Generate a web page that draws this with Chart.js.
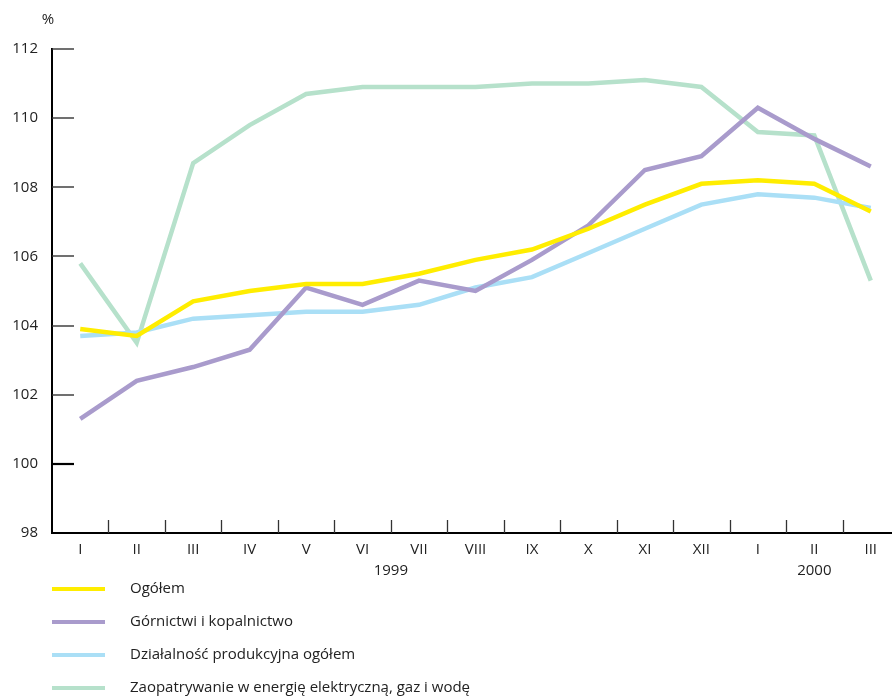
<!DOCTYPE html>
<html>
<head>
<meta charset="utf-8">
<script src="https://cdn.jsdelivr.net/npm/chart.js@4/dist/chart.umd.min.js"></script>
<style>
  html, body { margin: 0; padding: 0; overflow: hidden; background: #fff; }
</style>
</head>
<body>
<canvas id="wykres" width="899" height="699"></canvas>
<script>
// miesiace na osi X
const miesiace = ["I", "II", "III", "IV", "V", "VI", "VII", "VIII", "IX", "X", "XI", "XII", "I", "II", "III"];
// lata pod miesiacami (indeksy pierwszego i ostatniego miesiaca)
const lata = [
    { tekst: "1999", start: 0, end: 11 },
    { tekst: "2000", start: 12, end: 14 }
];
const podzialkaY = [98, 100, 102, 104, 106, 108, 110, 112];

const ogolem        = [103.9, 103.7, 104.7, 105.0, 105.2, 105.2, 105.5, 105.9, 106.2, 106.8, 107.5, 108.1, 108.2, 108.1, 107.3];
const gornictwo     = [101.3, 102.4, 102.8, 103.3, 105.1, 104.6, 105.3, 105.0, 105.9, 106.9, 108.5, 108.9, 110.3, 109.4, 108.6];
const dzialalnosc   = [103.7, 103.8, 104.2, 104.3, 104.4, 104.4, 104.6, 105.1, 105.4, 106.1, 106.8, 107.5, 107.8, 107.7, 107.4];
const zaopatrywanie = [105.8, 103.5, 108.7, 109.8, 110.7, 110.9, 110.9, 110.9, 111.0, 111.0, 111.1, 110.9, 109.6, 109.5, 105.3];

const czcionka = "'Open Sans', 'DejaVu Sans', sans-serif";

// znaczniki skierowane do srodka, lata, "%" i legenda pod wykresem
const dodatki = {
    id: "dodatki",
    afterDraw(chart) {
        const ctx = chart.ctx;
        const x = chart.scales.x;
        const y = chart.scales.y;
        const area = chart.chartArea;
        ctx.save();

        // znaczniki osi Y
        podzialkaY.forEach(v => {
            if (v === y.min) return;
            const py = Math.round(y.getPixelForValue(v));
            ctx.beginPath();
            ctx.lineWidth = v === 100 ? 2.2 : 1.4;
            ctx.strokeStyle = v === 100 ? "#000" : "#333";
            ctx.moveTo(area.left, py);
            ctx.lineTo(area.left + 22, py);
            ctx.stroke();
        });

        // znaczniki osi X miedzy miesiacami
        ctx.lineWidth = 1.3;
        ctx.strokeStyle = "#333";
        for (let i = 0; i < miesiace.length - 1; i++) {
            const px = Math.round((x.getPixelForValue(i) + x.getPixelForValue(i + 1)) / 2) + 0.5;
            ctx.beginPath();
            ctx.moveTo(px, area.bottom);
            ctx.lineTo(px, area.bottom - 13);
            ctx.stroke();
        }

        ctx.font = "15px " + czcionka;
        ctx.fillStyle = "#222";
        ctx.textAlign = "center";
        ctx.textBaseline = "middle";
        lata.forEach(r => {
            const px = (x.getPixelForValue(r.start) + x.getPixelForValue(r.end)) / 2;
            ctx.fillText(r.tekst, px, area.bottom + 38);
        });
        ctx.fillText("%", area.left - 4, 20);

        // legenda
        ctx.textAlign = "left";
        chart.data.datasets.forEach((ds, i) => {
            const py = 589 + i * 33;
            ctx.beginPath();
            ctx.lineWidth = 4;
            ctx.strokeStyle = ds.borderColor;
            ctx.moveTo(52, py);
            ctx.lineTo(105, py);
            ctx.stroke();
            ctx.fillText(ds.label, 130, py);
        });
        ctx.restore();
    }
};

new Chart(document.getElementById("wykres"), {
    type: "line",
    data: {
        labels: miesiace,
        datasets: [
            { label: "Ogółem", data: ogolem, borderColor: "#ffed00" },
            { label: "Górnictwi i kopalnictwo", data: gornictwo, borderColor: "#a99bcc" },
            { label: "Działalność produkcyjna ogółem", data: dzialalnosc, borderColor: "#aadff6" },
            { label: "Zaopatrywanie w energię elektryczną, gaz i wodę", data: zaopatrywanie, borderColor: "#b6e1cb" }
        ]
    },
    options: {
        responsive: false,
        animation: false,
        layout: {
            padding: { top: 49, right: 0, bottom: 116, left: 0 }
        },
        elements: {
            line: { borderWidth: 4.5, tension: 0, fill: false },
            point: { radius: 0, hoverRadius: 0 }
        },
        plugins: {
            legend: { display: false },
            tooltip: { enabled: false },
            title: { display: false }
        },
        scales: {
            x: {
                offset: true,
                grid: { display: false, drawTicks: false },
                border: { display: true, color: "#000", width: 2 },
                ticks: {
                    color: "#222",
                    padding: 8,
                    maxRotation: 0,
                    autoSkip: false,
                    font: { family: czcionka, size: 15 }
                },
                afterFit: s => { s.height = 50; }
            },
            y: {
                min: 98,
                max: 112,
                grid: { display: false, drawTicks: false },
                border: { display: true, color: "#000", width: 2 },
                ticks: {
                    stepSize: 2,
                    color: "#222",
                    padding: 14,
                    font: { family: czcionka, size: 15 }
                },
                afterFit: s => { s.width = 52; }
            }
        }
    },
    plugins: [dodatki]
});
</script>
</body>
</html>
